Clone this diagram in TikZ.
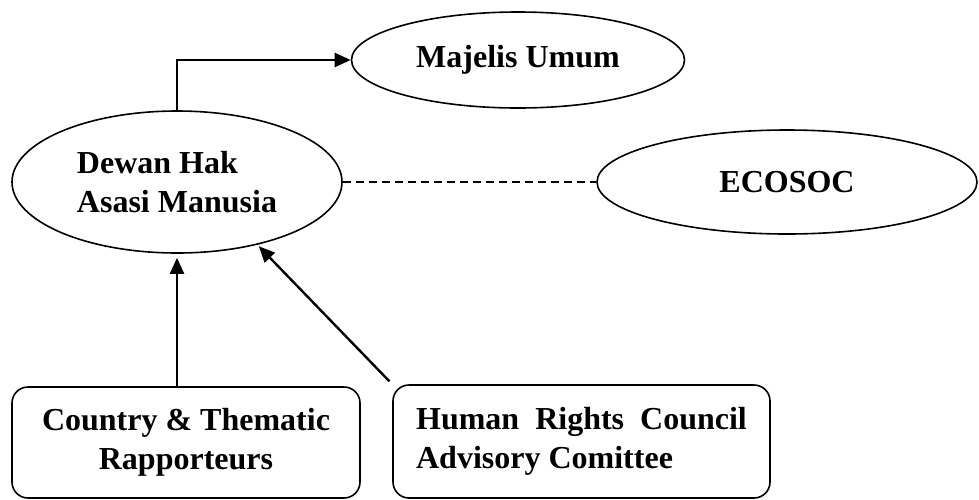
\documentclass[tikz,border=0pt]{standalone}
\usepackage{fontspec}
\setmainfont{Liberation Serif}
\usetikzlibrary{shapes.geometric,arrows.meta}

\tikzset{
  lembaga/.style={draw, ellipse, line width=0.8pt, inner sep=0pt},
  kotak/.style={draw, rectangle, rounded corners=8pt, line width=0.8pt, inner sep=0pt},
  panah/.style={line width=1.2pt, -{Triangle[length=8pt,width=7pt]}},
}

\begin{document}
\begin{tikzpicture}[x=0.5pt,y=-0.5pt,
  every node/.style={font=\fontsize{16}{19.5}\selectfont\bfseries}]
            \useasboundingbox (0,0) rectangle (979,499);

            \node[lembaga, minimum width=166.5pt, minimum height=48pt] (majelis) at (518,60) {Majelis Umum};
            \node[lembaga, minimum width=165pt, minimum height=71pt, align=left] (dewan) at (177,182) {Dewan Hak\\Asasi Manusia};
            \node[lembaga, minimum width=190pt, minimum height=52pt] (ecosoc) at (787,182) {ECOSOC};
            \node[kotak, minimum width=174pt, minimum height=55.5pt, align=center] (pelapor) at (186,442.5) {Country \& Thematic\\Rapporteurs};
            \node[kotak, minimum width=188.5pt, minimum height=56.5pt, align=left] (komite) at (581.5,441.5) {Human\enspace Rights\enspace Council\\Advisory Comittee};

            \draw[panah] (dewan.north) |- (majelis.west);
            \draw[line width=0.6pt, dash pattern=on 4pt off 2.5pt] (dewan.east) -- (dewan.east -| ecosoc.west);
            \draw[panah, shorten >=2pt] (pelapor.north -| dewan.south) -- (dewan.south);
            \draw[panah, shorten >=1pt, shorten <=2pt] (komite.north west) -- (dewan.-38);
        \end{tikzpicture}
\end{document}
